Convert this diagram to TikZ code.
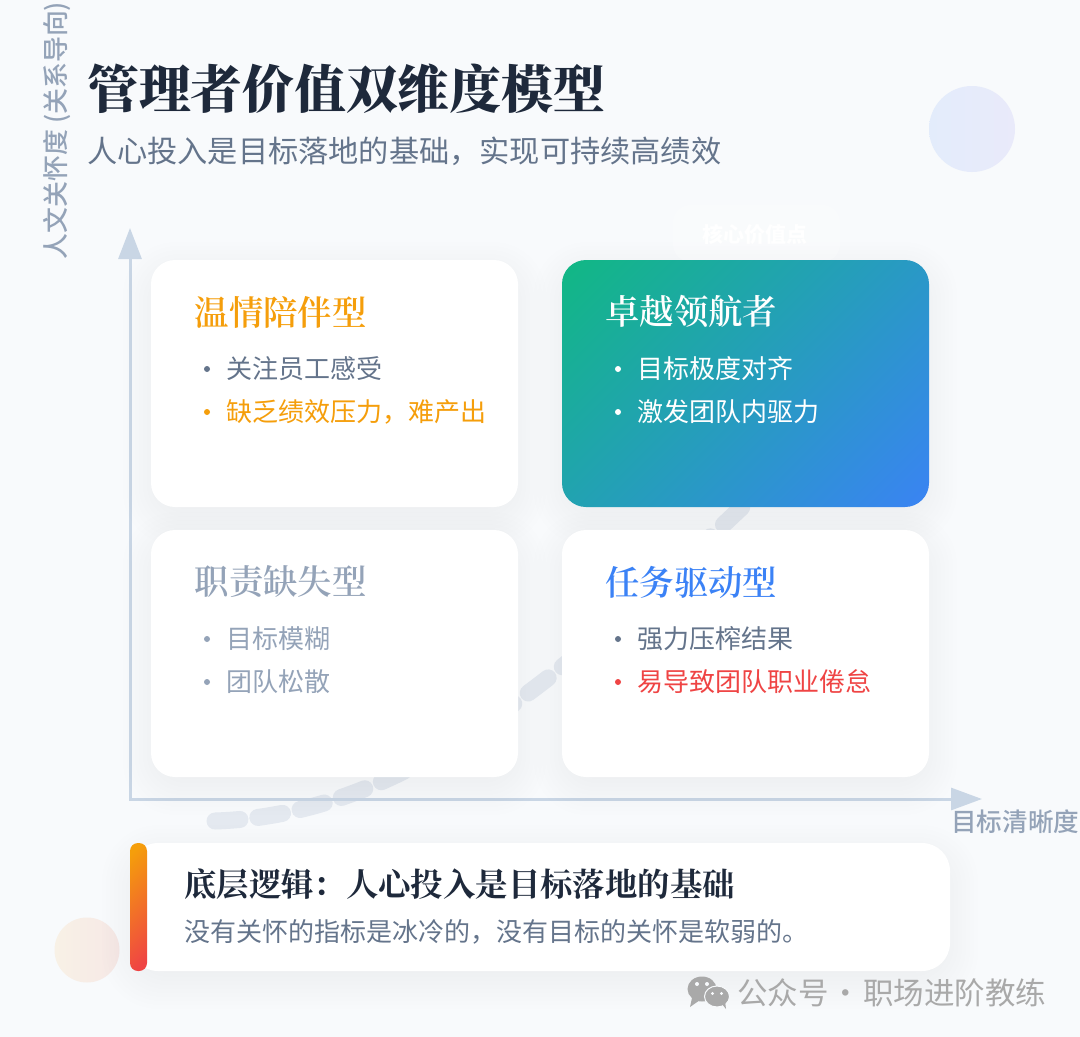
\documentclass[tikz,border=0pt]{standalone}
\usepackage{fontspec}
\usepackage{amsmath}
\usepackage{tikz}
\usetikzlibrary{arrows.meta}
\setmainfont{Noto Sans CJK SC}
\newfontfamily\sanscn{Noto Sans CJK SC}
\newfontfamily\sansmid[UprightFont=* Medium]{Noto Sans CJK SC}
\newfontfamily\serifcn{Noto Serif CJK SC}
\newfontfamily\serifmid[UprightFont=* SemiBold]{Noto Serif CJK SC}
\newfontfamily\titlecn[UprightFont=* Black]{Noto Serif CJK SC}
\definecolor{pagebg}{HTML}{F8FAFC}
\definecolor{inkdark}{HTML}{1E293B}
\definecolor{inkgray}{HTML}{64748B}
\definecolor{inkpale}{HTML}{94A3B8}
\definecolor{axisblue}{HTML}{C9D6E5}
\definecolor{trendgray}{HTML}{E4E9F0}
\definecolor{warmorange}{HTML}{F59E0B}
\definecolor{alertred}{HTML}{EF4444}
\definecolor{taskblue}{HTML}{3B82F6}
\definecolor{leadgreen}{HTML}{10B981}
\definecolor{markgray}{HTML}{A9A9A9}
\pgfdeclareverticalshading{leadshade}{100bp}{color(0bp)=(taskblue); color(13bp)=(taskblue); color(87bp)=(leadgreen); color(100bp)=(leadgreen)}
\pgfdeclareverticalshading{barshade}{100bp}{color(0bp)=(alertred); color(20bp)=(alertred); color(80bp)=(warmorange); color(100bp)=(warmorange)}
\tikzset{
  cardbox/.style={fill=white, rounded corners=24pt, minimum width=367pt, minimum height=247pt, inner sep=0pt},
  labeltext/.style={anchor=west, inner sep=0pt},
  cardtitle/.style={labeltext, font=\serifmid\fontsize{34.4}{36}\selectfont},
  cardpoint/.style={labeltext, font=\sanscn\fontsize{26}{28}\selectfont},
  bullet/.style={circle, fill, inner sep=0pt, minimum size=6pt},
}
% soft shadow: x0, y0, x1, y1, radius
\newcommand{\softshadow}[5]{
  \foreach \s in {-12,-8,...,28}
    \fill [black, opacity=0.0045, rounded corners=#5+0.7*\s+9]
      (#1-\s,#2-\s+10) rectangle (#3+\s,#4+\s+10);
}
\begin{document}
\begin{tikzpicture}[x=1pt,y=-1pt]
\useasboundingbox (0,0) rectangle (1080,1037);
\fill [pagebg] (0,0) rectangle (1080,1037);

% decoration
\definecolor{moonl}{HTML}{E3ECFB}
\definecolor{moonr}{HTML}{E9EAFA}
\definecolor{sunl}{HTML}{F8F1E6}
\definecolor{sunr}{HTML}{F6E8E6}
\shade [left color=moonl, right color=moonr] (972,129) circle (43);
\shade [left color=sunl, right color=sunr] (87,950) circle (32.5);

% trend line
\coordinate (trendstart) at (215,821);
\coordinate (trendend) at (760,490);
\draw [trendgray, line width=17pt, line cap=round, dash pattern=on 25pt off 18pt]
  (trendstart) .. controls (400,815) and (550,690) .. (trendend);

% axes
\coordinate (origin) at (130,799);
\coordinate (ytip) at (130,228);
\coordinate (xtip) at (982,799);
\draw [axisblue, line width=3pt, {Triangle[length=31pt,width=23pt]}-{Triangle[length=31pt,width=22pt]}] (ytip) -- (origin) -- (xtip);
\node (ylabel) at (57,130.5) [rotate=90, inner sep=0pt, inkpale, font=\sansmid\fontsize{25.9}{28}\selectfont] {人文关怀度 (关系导向)};
\node (xlabel) at (951,822) [labeltext, inkpale, font=\sansmid\fontsize{25.6}{27}\selectfont] {目标清晰度};

% title
\node (title) at (87,88) [labeltext, inkdark, font=\titlecn\fontsize{51.8}{56}\selectfont] {管理者价值双维度模型};
\node (subtitle) at (87,151) [labeltext, inkgray, font=\sanscn\fontsize{30.2}{32}\selectfont] {人心投入是目标落地的基础，实现可持续高绩效};

% cards
\softshadow{151}{260}{518}{507}{24}
\softshadow{562}{260}{929}{507}{24}
\softshadow{151}{530}{518}{777}{24}
\softshadow{562}{530}{929}{777}{24}
\softshadow{130}{843}{950}{971}{28}

% badge above the top right card
\fill [white, opacity=0.25, rounded corners=18pt] (673,205) rectangle (840,262);
\node (badge) at (755,234) [inner sep=0pt, white, font=\sanscn\bfseries\fontsize{21}{23}\selectfont] {核心价值点};

\node (warmcard) at (334.5,383.5) [cardbox] {};
\node (leadcard) at (745.5,383.5) [cardbox, fill=none, shading=leadshade, shading angle=45] {};
\node (lostcard) at (334.5,653.5) [cardbox] {};
\node (taskcard) at (745.5,653.5) [cardbox] {};

% warm card
\node (warmtitle) at (194.5,312) [cardtitle, warmorange] {温情陪伴型};
\node (warmdota) at (207,369) [bullet, inkgray] {};
\node (warma) at (226,369) [cardpoint, inkgray] {关注员工感受};
\node (warmdotb) at (207,412) [bullet, warmorange] {};
\node (warmb) at (226,412) [cardpoint, warmorange] {缺乏绩效压力，难产出};

% lead card
\node (leadtitle) at (605,312) [cardtitle, white] {卓越领航者};
\node (leaddota) at (618,369) [bullet, white] {};
\node (leada) at (637,369) [cardpoint, white] {目标极度对齐};
\node (leaddotb) at (618,412) [bullet, white] {};
\node (leadb) at (637,412) [cardpoint, white] {激发团队内驱力};

% lost card
\node (losttitle) at (194.5,582) [cardtitle, inkpale] {职责缺失型};
\node (lostdota) at (207,639) [bullet, inkpale] {};
\node (losta) at (226,639) [cardpoint, inkpale] {目标模糊};
\node (lostdotb) at (207,682) [bullet, inkpale] {};
\node (lostb) at (226,682) [cardpoint, inkpale] {团队松散};

% task card
\node (tasktitle) at (605,582) [cardtitle, taskblue] {任务驱动型};
\node (taskdota) at (618,639) [bullet, inkgray] {};
\node (taska) at (637,639) [cardpoint, inkgray] {强力压榨结果};
\node (taskdotb) at (618,682) [bullet, alertred] {};
\node (taskb) at (637,682) [cardpoint, alertred] {易导致团队职业倦怠};

% bottom card
\node (basecard) at (540,907) [fill=white, rounded corners=28pt, minimum width=820pt, minimum height=128pt, inner sep=0pt] {};
\shade [rounded corners=8pt, shading=barshade, shading angle=45] (130,843) rectangle (147,971);
\node (basetitle) at (184,885) [labeltext, inkdark, font=\serifcn\bfseries\fontsize{32.4}{35}\selectfont] {底层逻辑：人心投入是目标落地的基础};
\node (basetext) at (184,932) [labeltext, inkgray, font=\sanscn\fontsize{26}{28}\selectfont] {没有关怀的指标是冰冷的，没有目标的关怀是软弱的。};

% watermark
\fill [markgray] (702,989) ellipse (14.5 and 12.5);
\fill [markgray] (692,998) -- (690,1007) -- (700,1000) -- cycle;
\fill [markgray, draw=pagebg, line width=1pt] (717,996.5) ellipse (12.5 and 10.5);
\fill [markgray] (722,1004) -- (726,1009) -- (725,1001) -- cycle;
\fill [pagebg] (697,984) circle (2) (707,984) circle (2) (712.5,993.5) circle (1.7) (721.5,993.5) circle (1.7);
\node (mark) at (737,993) [labeltext, markgray, font=\sanscn\fontsize{30.5}{32}\selectfont] {公众号\kern2pt ·\kern2pt 职场进阶教练};
\end{tikzpicture}
\end{document}
